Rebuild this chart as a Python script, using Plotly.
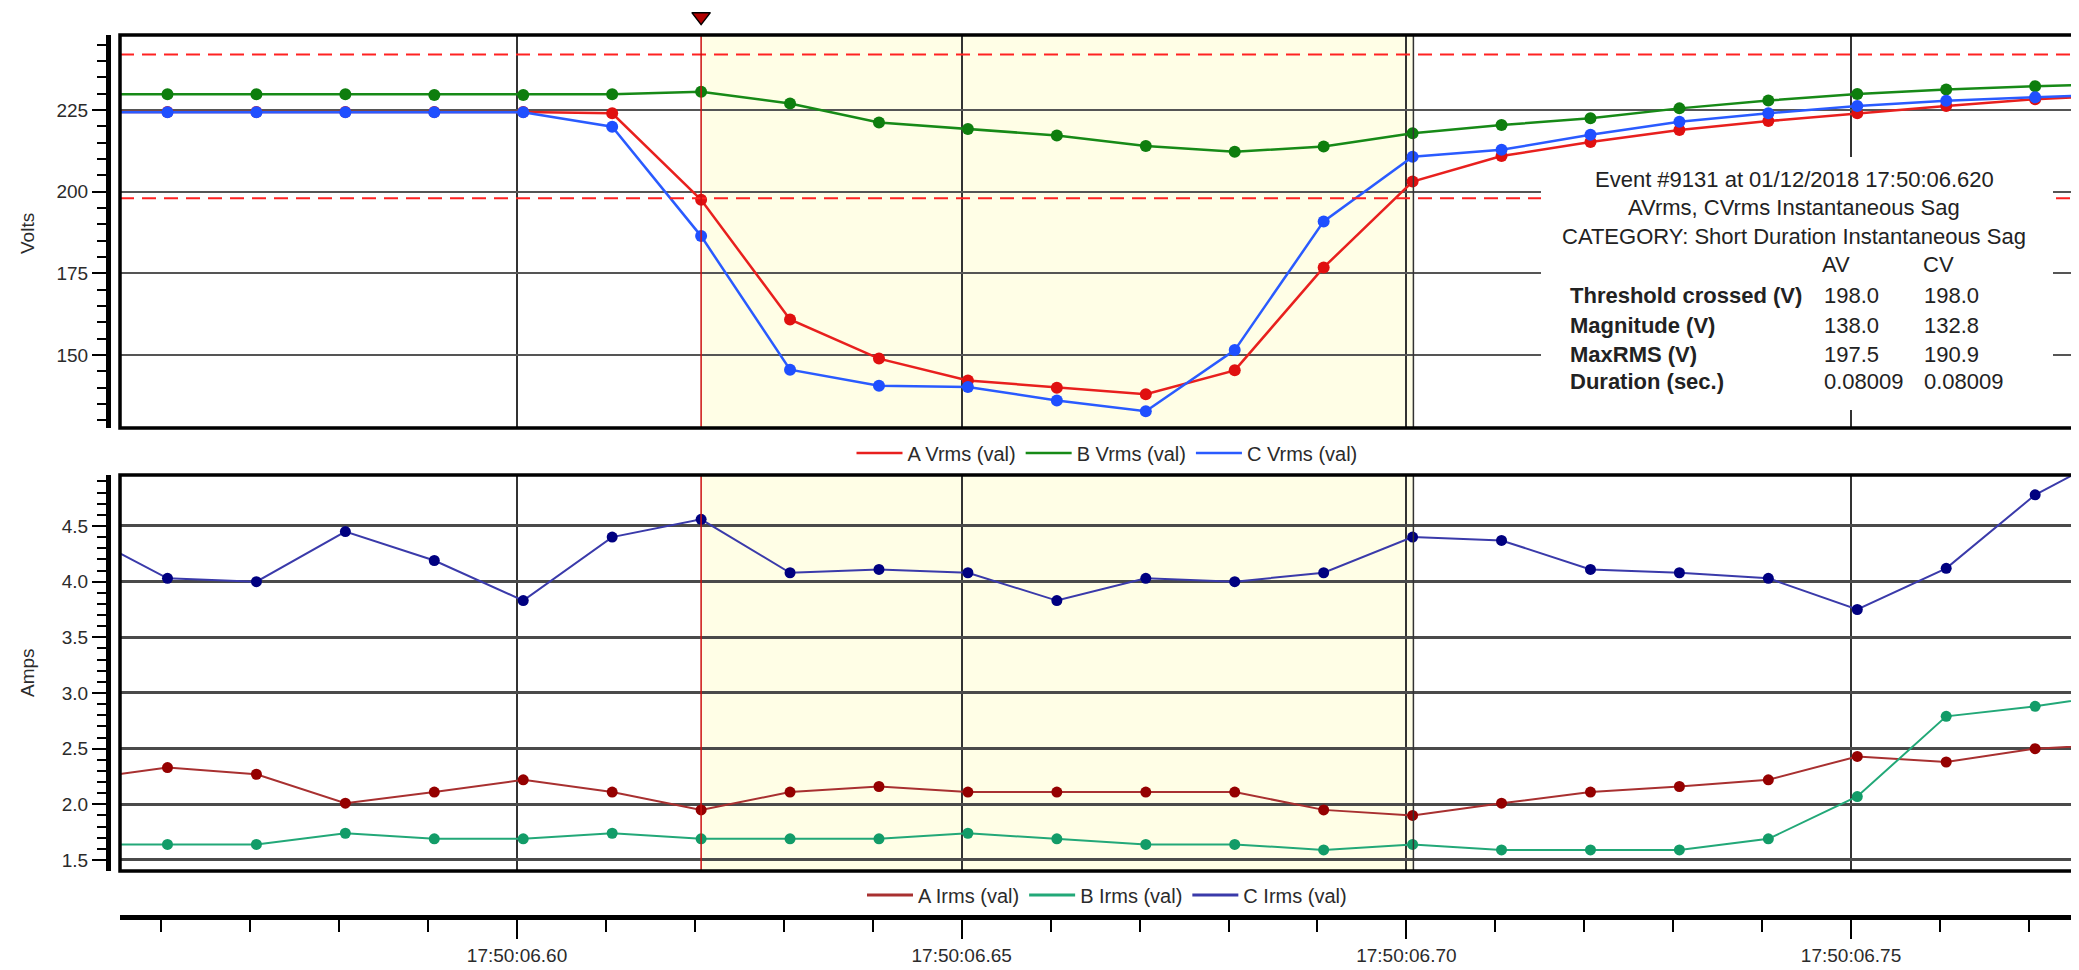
import plotly.graph_objects as go

W, H = 2079, 970
OFF = 8  # page body margin of the exported html
DAY = "2018-01-12 "

# ---------------- data ----------------
times = ["17:50:06.5507", "17:50:06.5607", "17:50:06.5707", "17:50:06.5807",
         "17:50:06.5907", "17:50:06.6007", "17:50:06.6107", "17:50:06.6207",
         "17:50:06.6307", "17:50:06.6407", "17:50:06.6507", "17:50:06.6607",
         "17:50:06.6707", "17:50:06.6807", "17:50:06.6907", "17:50:06.7007",
         "17:50:06.7107", "17:50:06.7207", "17:50:06.7307", "17:50:06.7407",
         "17:50:06.7507", "17:50:06.7607", "17:50:06.7707", "17:50:06.7807"]

a_vrms = [224.4, 224.4, 224.4, 224.4, 224.4, 224.4, 224.0, 197.5, 160.9, 148.9, 142.2, 140.0,
          138.0, 145.3, 176.8, 203.1, 210.9, 215.2, 218.9, 221.6, 224.0, 226.2, 228.3, 229.6]
b_vrms = [229.8, 229.8, 229.8, 229.8, 229.6, 229.6, 229.8, 230.6, 227.0, 221.2, 219.2, 217.2,
          214.0, 212.2, 213.8, 217.9, 220.4, 222.5, 225.5, 227.9, 229.9, 231.3, 232.3, 233.0]
c_vrms = [224.3, 224.3, 224.3, 224.3, 224.3, 224.3, 219.9, 186.4, 145.5, 140.6, 140.2, 136.1,
          132.8, 151.5, 190.9, 210.7, 212.8, 217.4, 221.4, 224.0, 226.2, 227.8, 228.9, 229.8]

a_irms = [2.22, 2.33, 2.27, 2.01, 2.11, 2.22, 2.11, 1.95, 2.11, 2.16, 2.11, 2.11,
          2.11, 2.11, 1.95, 1.90, 2.01, 2.11, 2.16, 2.22, 2.43, 2.38, 2.50, 2.54]
b_irms = [1.64, 1.64, 1.64, 1.74, 1.69, 1.69, 1.74, 1.69, 1.69, 1.69, 1.74, 1.69,
          1.64, 1.64, 1.59, 1.64, 1.59, 1.59, 1.59, 1.69, 2.07, 2.79, 2.88, 3.00]
c_irms = [4.45, 4.03, 4.00, 4.45, 4.19, 3.83, 4.40, 4.56, 4.08, 4.11, 4.08, 3.83,
          4.03, 4.00, 4.08, 4.40, 4.37, 4.11, 4.08, 4.03, 3.75, 4.12, 4.78, 5.20]

volt_names = ["A Vrms (val)", "B Vrms (val)", "C Vrms (val)"]
amp_names = ["A Irms (val)", "B Irms (val)", "C Irms (val)"]

x_tick_vals = ["17:50:06.60", "17:50:06.65", "17:50:06.70", "17:50:06.75"]
x_tick_text = ["17:50:06.60", "17:50:06.65", "17:50:06.70", "17:50:06.75"]

thresholds = [242.0, 198.0]
event_start = "17:50:06.6207"
event_end = "17:50:06.70079"
x_range = ["17:50:06.55536", "17:50:06.77653"]

event_title = ["Event #9131 at 01/12/2018 17:50:06.620",
               "AVrms, CVrms Instantaneous Sag",
               "CATEGORY: Short Duration Instantaneous Sag"]
table_cols = ["AV", "CV"]
table_rows = ["Threshold crossed (V)", "Magnitude (V)", "MaxRMS (V)", "Duration (sec.)"]
table_av = ["198.0", "138.0", "197.5", "0.08009"]
table_cv = ["198.0", "132.8", "190.9", "0.08009"]

# ---------------- styles ----------------
FONT = "Liberation Sans, Arial, sans-serif"
TXT = "#2b2b2b"
volt_line = ["#E8201E", "#178A17", "#2A5BFF"]
volt_mark = ["#E01010", "#0E7E0E", "#1F4FFF"]
amp_line = ["#A83030", "#22A878", "#3A3AAA"]
amp_mark = ["#950000", "#129C68", "#000080"]

X = [DAY + t for t in times]


def px(p):
    return (p - OFF) / W


def py(p):
    return 1 - (p - OFF) / H


fig = go.Figure()

for name, vals, lc, mc in zip(volt_names, [a_vrms, b_vrms, c_vrms], volt_line, volt_mark):
    fig.add_trace(go.Scatter(x=X, y=vals, mode="lines+markers", name=name, showlegend=False,
                             line=dict(color=lc, width=2.5), marker=dict(color=mc, size=12),
                             xaxis="x", yaxis="y"))
    fig.add_trace(go.Scatter(x=[None], y=[None], mode="lines", name=name, legend="legend",
                             line=dict(color=lc, width=2.5), xaxis="x", yaxis="y"))

for name, vals, lc, mc in zip(amp_names, [a_irms, b_irms, c_irms], amp_line, amp_mark):
    fig.add_trace(go.Scatter(x=X, y=vals, mode="lines+markers", name=name, showlegend=False,
                             line=dict(color=lc, width=2), marker=dict(color=mc, size=11),
                             xaxis="x2", yaxis="y2"))
    fig.add_trace(go.Scatter(x=[None], y=[None], mode="lines", name=name, legend="legend2",
                             line=dict(color=lc, width=3), xaxis="x2", yaxis="y2"))

V_RANGE = [127.65, 247.96]
A_RANGE = [1.401, 4.958]

# event marker triangle in a thin strip above the top plot
fig.add_trace(go.Scatter(x=[DAY + event_start], y=[0.68], mode="markers",
                         showlegend=False, hoverinfo="skip",
                         marker=dict(symbol="triangle-down", size=16, color="#B00000",
                                     line=dict(color="black", width=1.5)),
                         xaxis="x3", yaxis="y3"))

x0 = px(120)
common_x = dict(type="date", domain=[x0, 1], tickmode="array",
                tickvals=[DAY + t for t in x_tick_vals], ticktext=x_tick_text,
                showgrid=True, gridcolor="#333333", gridwidth=1.5, zeroline=False)

tickfont = dict(family=FONT, size=19, color=TXT)

fig.update_layout(
    width=W, height=H,
    margin=dict(l=0, r=0, t=0, b=0, autoexpand=False),
    paper_bgcolor="white", plot_bgcolor="white",
    font=dict(family=FONT, color=TXT, size=18),
    xaxis=dict(**common_x, anchor="y", range=[DAY + x_range[0], DAY + x_range[1]],
               showticklabels=False, ticks="", showline=False),
    xaxis2=dict(**common_x, matches="x", anchor="free", position=py(917),
                showline=True, linewidth=5, linecolor="black",
                ticks="outside", ticklen=19, tickwidth=2, tickcolor="black",
                tickfont=tickfont,
                minor=dict(dtick=10, tick0=DAY + "17:50:06.00", ticks="outside", ticklen=12,
                           tickwidth=2, tickcolor="black", showgrid=False)),
    xaxis3=dict(type="date", domain=[x0, 1], matches="x", anchor="y3", visible=False,
                showgrid=False, zeroline=False),
    yaxis=dict(domain=[py(428), py(35)], range=V_RANGE, anchor="free", position=px(108),
               showline=True, linewidth=5, linecolor="black",
               ticks="outside", ticklen=14, tickwidth=2, tickcolor="black",
               dtick=25, tick0=0, tickfont=tickfont,
               minor=dict(dtick=5, ticks="outside", ticklen=9, tickwidth=2,
                          tickcolor="black", showgrid=False),
               showgrid=True, gridcolor="#555555", gridwidth=2, zeroline=False),
    yaxis2=dict(domain=[py(871), py(475)], range=A_RANGE, anchor="free", position=px(108),
                showline=True, linewidth=5, linecolor="black",
                ticks="outside", ticklen=14, tickwidth=2, tickcolor="black",
                dtick=0.5, tick0=0, tickformat=".1f", tickfont=tickfont,
                minor=dict(dtick=0.1, ticks="outside", ticklen=9, tickwidth=2,
                           tickcolor="black", showgrid=False),
                showgrid=True, gridcolor="#4a4a4a", gridwidth=2.5, zeroline=False),
    yaxis3=dict(domain=[py(35), 1], range=[0, 1], anchor="x3", visible=False,
                showgrid=False, zeroline=False),
    legend=dict(orientation="h", x=px(1107), y=py(453), xanchor="center", yanchor="middle",
                font=dict(family=FONT, size=20, color=TXT), bgcolor="rgba(0,0,0,0)",
                itemwidth=46, tracegroupgap=0),
    legend2=dict(orientation="h", x=px(1107), y=py(895), xanchor="center", yanchor="middle",
                 font=dict(family=FONT, size=20, color=TXT), bgcolor="rgba(0,0,0,0)",
                 itemwidth=46, tracegroupgap=0),
    showlegend=True,
)

shapes = []
# event shading in both panels
for xr, yr in [("x", "y domain"), ("x2", "y2 domain")]:
    shapes.append(dict(type="rect", xref=xr, yref=yr, x0=DAY + event_start, x1=DAY + event_end,
                       y0=0, y1=1, fillcolor="#FFFEE6", line=dict(width=0), layer="below"))

# threshold lines
for t in thresholds:
    shapes.append(dict(type="line", xref="paper", yref="y", x0=x0, x1=1, y0=t, y1=t,
                       line=dict(color="#FF2222", width=2, dash="14px,8px"), layer="above"))

# event start / end lines in both panels
for xr, yr in [("x", "y domain"), ("x2", "y2 domain")]:
    shapes.append(dict(type="line", xref=xr, yref=yr, x0=DAY + event_end, x1=DAY + event_end,
                       y0=0, y1=1, line=dict(color="#333333", width=1.5), layer="above"))
    shapes.append(dict(type="line", xref=xr, yref=yr, x0=DAY + event_start, x1=DAY + event_start,
                       y0=0, y1=1, line=dict(color="#CC1010", width=1.5), layer="above"))

# panel frames
for top, bot in [(35, 428), (475, 871)]:
    shapes.append(dict(type="rect", xref="paper", yref="paper", x0=x0, x1=1.01,
                       y0=py(bot), y1=py(top), line=dict(color="black", width=3.5),
                       fillcolor="rgba(0,0,0,0)", layer="above"))

# white info box
shapes.append(dict(type="rect", xref="paper", yref="paper", x0=px(1541), x1=px(2053),
                   y0=py(410), y1=py(157), fillcolor="white", line=dict(width=0), layer="above"))

fig.update_layout(shapes=shapes)

ann = []
for txt, yy in [("Volts", 234), ("Amps", 673)]:
    ann.append(dict(text=txt, x=px(27), y=py(yy), xref="paper", yref="paper", showarrow=False,
                    xanchor="center", yanchor="middle", textangle=-90,
                    font=dict(family=FONT, size=19, color=TXT)))

box_font = dict(family=FONT, size=22, color="#222222")
for txt, yy in zip(event_title, [179, 207.5, 236]):
    ann.append(dict(text=txt, x=px(1794), y=py(yy), xref="paper", yref="paper", showarrow=False,
                    xanchor="center", yanchor="middle", font=box_font))
for txt, xx in zip(table_cols, [1820, 1921]):
    ann.append(dict(text=txt, x=px(xx), y=py(265), xref="paper", yref="paper", showarrow=False,
                    xanchor="left", yanchor="middle", font=box_font))
for lab, av, cv, yy in zip(table_rows, table_av, table_cv, [295.5, 325.5, 354, 381.5]):
    ann.append(dict(text="<b>" + lab + "</b>", x=px(1568), y=py(yy), xref="paper", yref="paper",
                    showarrow=False, xanchor="left", yanchor="middle", font=box_font))
    ann.append(dict(text=av, x=px(1822), y=py(yy), xref="paper", yref="paper",
                    showarrow=False, xanchor="left", yanchor="middle", font=box_font))
    ann.append(dict(text=cv, x=px(1922), y=py(yy), xref="paper", yref="paper",
                    showarrow=False, xanchor="left", yanchor="middle", font=box_font))

fig.update_layout(annotations=ann)

fig.write_html("out.html")
